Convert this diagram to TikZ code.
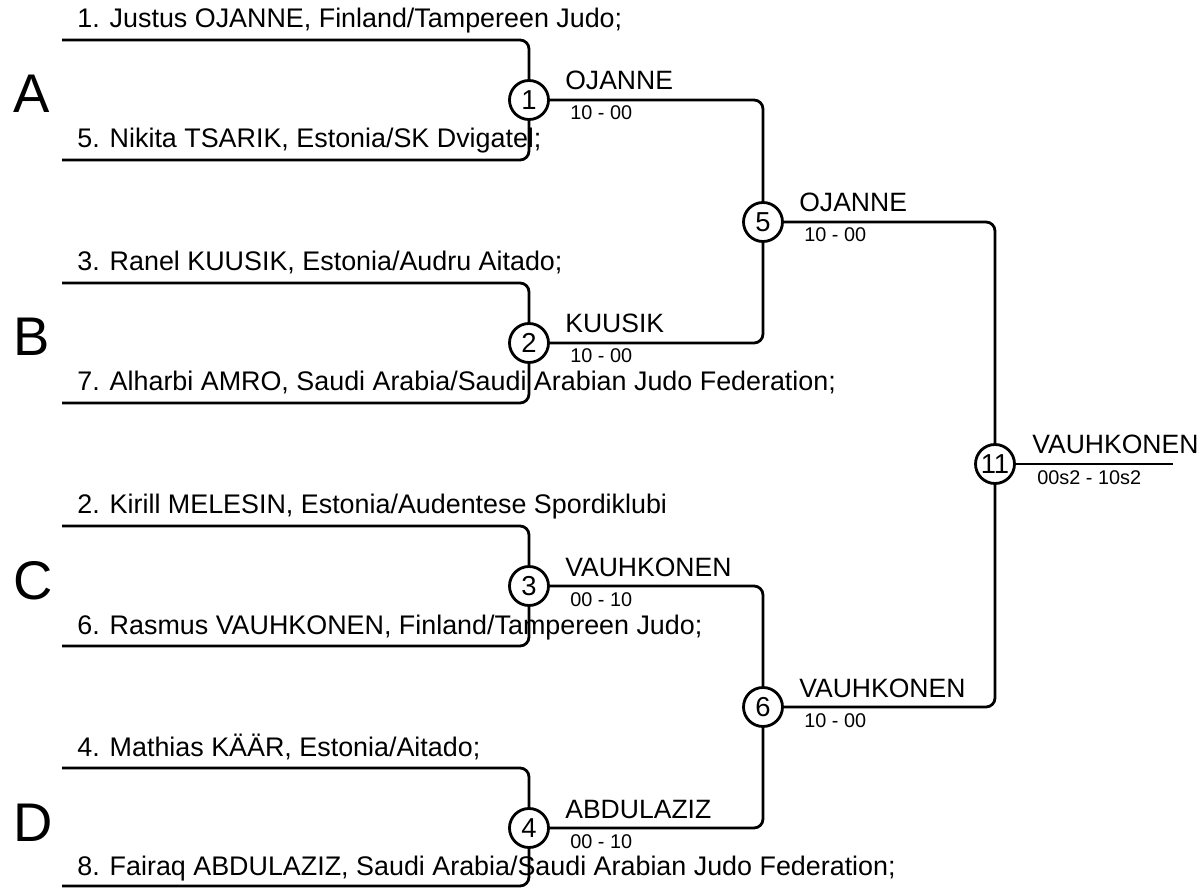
\documentclass[tikz,border=0pt]{standalone}
\usepackage{fontspec}
\setmainfont{Liberation Sans}
\usetikzlibrary{positioning, calc}

\begin{document}
\begin{tikzpicture}[x=0.02cm, y=-0.02cm,
    bout/.style={draw, circle, line width=1.6pt, fill=white, minimum size=0.78cm,
      inner sep=0pt, font=\fontsize{15.6}{17}\selectfont},
    wire/.style={line width=1.6pt, rounded corners=0.18cm},
    player/.style={anchor=base west, inner sep=0pt, font=\fontsize{15.3}{17}\selectfont},
    winner/.style={anchor=base west, inner sep=0pt, font=\fontsize{15.1}{17}\selectfont},
    score/.style={anchor=base west, inner sep=0pt, font=\fontsize{11.3}{13}\selectfont},
    pool/.style={anchor=base west, inner sep=0pt, font=\fontsize{31}{35}\selectfont}]
  \useasboundingbox (0,0) rectangle (1204,888);

  % pools
  \node[pool] (gA) at (13,113) {A};
  \node[pool] (gB) at (13,356) {B};
  \node[pool] (gC) at (13,599) {C};
  \node[pool] (gD) at (13,841) {D};

  % entrants
  \node[player] (t1) at (77,28)  {1. Justus OJANNE, Finland/Tampereen Judo;};
  \node[player] (t5) at (77,148) {5. Nikita TSARIK, Estonia/SK Dvigatel;};
  \node[player] (t3) at (77,271) {3. Ranel KUUSIK, Estonia/Audru Aitado;};
  \node[player] (t7) at (77,391) {7. Alharbi AMRO, Saudi Arabia/Saudi Arabian Judo Federation;};
  \node[player] (t2) at (77,514) {2. Kirill MELESIN, Estonia/Audentese Spordiklubi};
  \node[player] (t6) at (77,634) {6. Rasmus VAUHKONEN, Finland/Tampereen Judo;};
  \node[player] (t4) at (77,756) {4. Mathias KÄÄR, Estonia/Aitado;};
  \node[player] (t8) at (77,875) {8. Fairaq ABDULAZIZ, Saudi Arabia/Saudi Arabian Judo Federation;};

  \coordinate (p1) at (62,40);
  \coordinate (p5) at (62,160);
  \coordinate (p3) at (62,283);
  \coordinate (p7) at (62,403);
  \coordinate (p2) at (62,526);
  \coordinate (p6) at (62,646);
  \coordinate (p4) at (62,768);
  \coordinate (p8) at (62,886);

  % bouts
  \node[bout] (m1) at (529,100) {1};
  \node[bout] (m2) at (529,343) {2};
  \node[bout] (m3) at (529,586) {3};
  \node[bout] (m4) at (529,828) {4};
  \node[bout] (m5) at (763,222) {5};
  \node[bout] (m6) at (763,707) {6};
  \node[bout] (m11) at (995,464) {11};
  \coordinate (fin) at (1173,464);

  \draw[wire] (p1) -| (m1);
  \draw[wire] (p5) -| (m1);
  \draw[wire] (p3) -| (m2);
  \draw[wire] (p7) -| (m2);
  \draw[wire] (p2) -| (m3);
  \draw[wire] (p6) -| (m3);
  \draw[wire] (p4) -| (m4);
  \draw[wire] (p8) -| (m4);
  \draw[wire] (m1) -| (m5);
  \draw[wire] (m2) -| (m5);
  \draw[wire] (m3) -| (m6);
  \draw[wire] (m4) -| (m6);
  \draw[wire] (m5) -| (m11);
  \draw[wire] (m6) -| (m11);
  \draw[wire] (m11) -- (fin);

  % results
  \node[winner] (w1) at ($(m1)+(36,-10)$) {OJANNE};
  \node[score]  (s1) at ($(m1)+(41,20)$)  {10 - 00};
  \node[winner] (w2) at ($(m2)+(36,-10)$) {KUUSIK};
  \node[score]  (s2) at ($(m2)+(41,20)$)  {10 - 00};
  \node[winner] (w3) at ($(m3)+(36,-10)$) {VAUHKONEN};
  \node[score]  (s3) at ($(m3)+(41,20)$)  {00 - 10};
  \node[winner] (w4) at ($(m4)+(36,-10)$) {ABDULAZIZ};
  \node[score]  (s4) at ($(m4)+(41,20)$)  {00 - 10};
  \node[winner] (w5) at ($(m5)+(36,-10)$) {OJANNE};
  \node[score]  (s5) at ($(m5)+(41,20)$)  {10 - 00};
  \node[winner] (w6) at ($(m6)+(36,-10)$) {VAUHKONEN};
  \node[score]  (s6) at ($(m6)+(41,20)$)  {10 - 00};
  \node[winner] (w11) at ($(m11)+(37,-10)$) {VAUHKONEN};
  \node[score]  (s11) at ($(m11)+(42,20)$)  {00s2 - 10s2};
\end{tikzpicture}
\end{document}
